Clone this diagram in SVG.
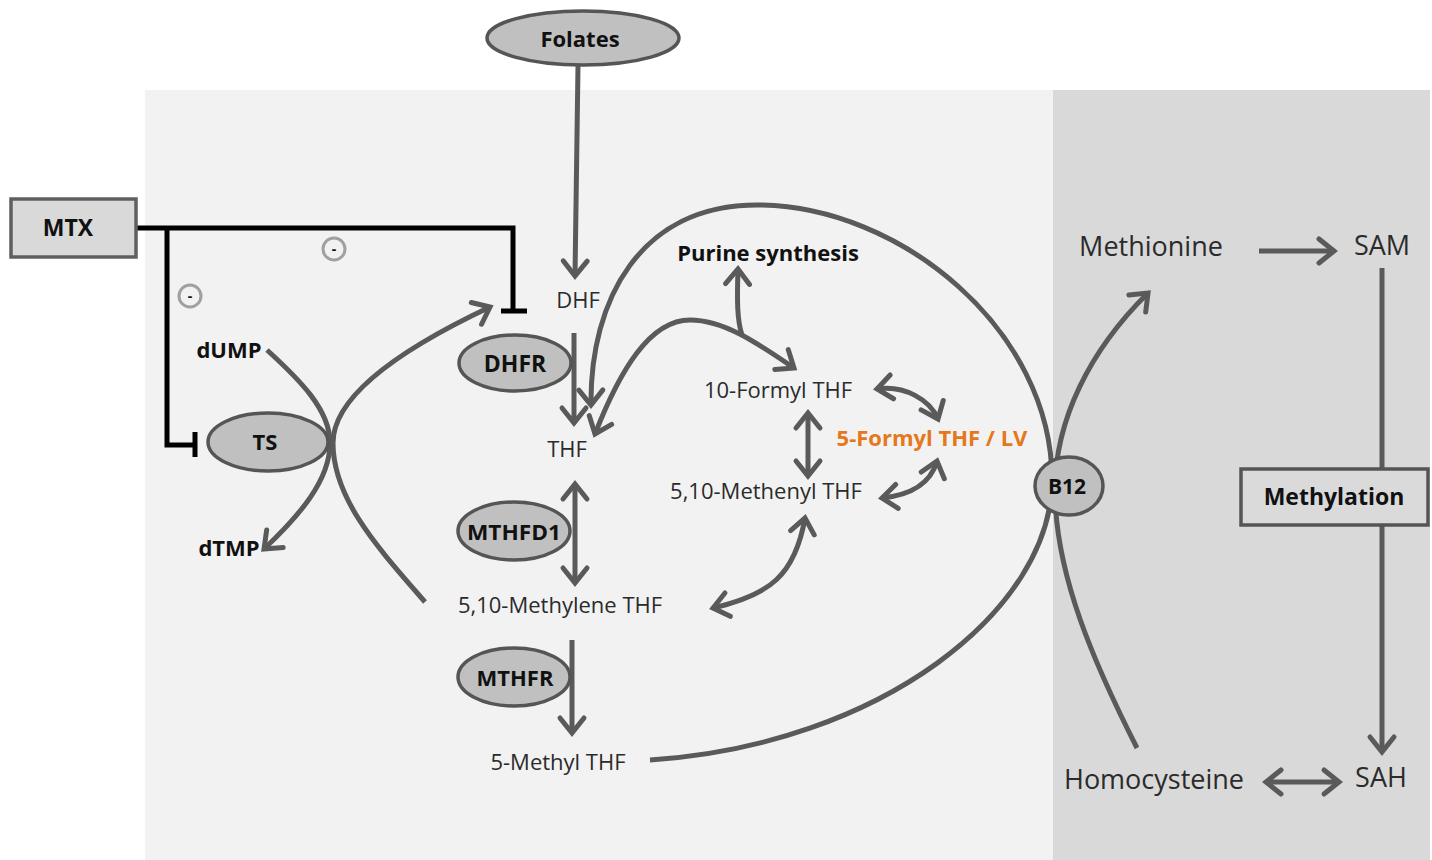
<svg xmlns="http://www.w3.org/2000/svg" width="1432" height="860" viewBox="0 0 1432 860">
<defs>
<style>
.t{font-family:"Open Sans","Noto Sans","Liberation Sans",sans-serif;fill:#2b2b2b;text-anchor:middle}
.b{font-weight:bold;fill:#111}
.c{fill:none;stroke:#5a5a5a;stroke-width:5}
.a{marker-end:url(#ah)}
.d{marker-start:url(#ah);marker-end:url(#ah)}
.inh{fill:none;stroke:#000;stroke-width:5}
.enz{fill:#c0c0c0;stroke:#555;stroke-width:3.5}
.box{fill:#d9d9d9;stroke:#5f5f5f;stroke-width:3.5}
.minus{fill:none;stroke:#a0a0a0;stroke-width:3}
</style>
<marker id="ah" markerUnits="userSpaceOnUse" markerWidth="40" markerHeight="40" viewBox="-20 -20 40 40" refX="0" refY="0" orient="auto-start-reverse" overflow="visible">
<path d="M -15 -12 L 0 0 L -15 12" fill="none" stroke="#5a5a5a" stroke-width="5" stroke-linecap="round"/>
</marker>
</defs>
<rect x="0" y="0" width="1432" height="860" fill="#fff"/>
<rect x="145" y="90" width="908" height="770" fill="#f2f2f2"/>
<rect x="1053" y="90" width="377" height="770" fill="#d9d9d9"/>

<g id="connectors">
<line class="c a" x1="578" y1="66" x2="575" y2="276"/>
<line class="c a" x1="574" y1="333" x2="574" y2="423"/>
<line class="c d" x1="575" y1="484" x2="575" y2="583"/>
<line class="c a" x1="572" y1="640" x2="572" y2="733"/>
<path class="c" d="M 267 350 C 300 380, 330 410, 330 443" />
<path class="c a" d="M 330 443 C 330 480, 300 515, 264 549"/>
<path class="c a" d="M 425 602 C 380 550, 333 500, 333 443 C 333 390, 420 340, 490 307"/>
<path class="c a" d="M 650 760 C 880 745, 1052 610, 1052 480 C 1052 330, 900 205, 757 205 C 640 205, 590 300, 591 405"/>
<path class="c a" d="M 1137 748 C 1095 665, 1055 575, 1055 490 C 1055 420, 1090 350, 1148 293"/>
<path class="c d" d="M 595 434 C 620 370, 650 320, 690 320 C 725 320, 760 345, 794 368"/>
<path class="c a" d="M 742 335 C 737 320, 737 300, 738 269"/>
<line class="c d" x1="808" y1="413" x2="808" y2="476"/>
<path class="c d" d="M 877 389 C 905 385, 930 400, 938 419"/>
<path class="c d" d="M 882 498 C 910 495, 930 485, 937 461"/>
<path class="c d" d="M 713 608 C 770 595, 795 575, 805 518"/>
<line class="c a" x1="1259" y1="251" x2="1334" y2="251"/>
<line class="c" x1="1382" y1="268" x2="1382" y2="469"/>
<line class="c a" x1="1382" y1="525" x2="1382" y2="752"/>
<line class="c d" x1="1266" y1="782" x2="1339" y2="782"/>
<polyline class="inh" points="136,228 513,228 513,311"/>
<line class="inh" x1="501" y1="311" x2="527" y2="311"/>
<polyline class="inh" points="167,228 167,445 195,445"/>
<line class="inh" x1="195" y1="432" x2="195" y2="457"/>
</g>

<g id="minus1"><circle class="minus" cx="334" cy="249" r="11"/><text class="t b" x="334" y="254" font-size="14">-</text></g>
<g id="minus2"><circle class="minus" cx="190" cy="296" r="11"/><text class="t b" x="190" y="301" font-size="14">-</text></g>

<g id="folates"><ellipse class="enz" cx="583" cy="38" rx="96" ry="27"/><text class="t b" x="580" y="47" font-size="22">Folates</text></g>
<g id="mtx"><rect class="box" x="11" y="199" width="125" height="58"/><text class="t b" x="68" y="236" font-size="23">MTX</text></g>
<g id="dhfr"><ellipse class="enz" cx="515" cy="363" rx="56" ry="28"/><text class="t b" x="515" y="372" font-size="23">DHFR</text></g>
<g id="ts"><ellipse class="enz" cx="268" cy="442" rx="60" ry="29"/><text class="t b" x="265" y="450" font-size="22">TS</text></g>
<g id="mthfd1"><ellipse class="enz" cx="514" cy="531" rx="56" ry="29"/><text class="t b" x="514" y="540" font-size="22" textLength="94" lengthAdjust="spacingAndGlyphs">MTHFD1</text></g>
<g id="mthfr"><ellipse class="enz" cx="514" cy="677" rx="56" ry="29"/><text class="t b" x="515" y="686" font-size="22">MTHFR</text></g>
<g id="b12"><ellipse class="enz" cx="1069" cy="486" rx="34" ry="29"/><text class="t b" x="1067" y="494" font-size="21">B12</text></g>
<g id="methylation"><rect x="1241" y="469" width="187" height="56" fill="#dadada" stroke="#555" stroke-width="3.5"/><text class="t b" x="1334" y="505" font-size="23">Methylation</text></g>

<g id="dhf"><text class="t" x="578" y="308" font-size="22">DHF</text></g>
<g id="thf"><text class="t" x="567" y="457" font-size="22">THF</text></g>
<g id="purine"><text class="t b" x="768" y="261" font-size="22">Purine synthesis</text></g>
<g id="formyl10"><text class="t" x="778" y="398" font-size="22">10-Formyl THF</text></g>
<g id="formyl5"><text class="t b" x="932" y="446" font-size="22" style="fill:#e4781b">5-Formyl THF  / LV</text></g>
<g id="methenyl"><text class="t" x="766" y="499" font-size="22">5,10-Methenyl THF</text></g>
<g id="methylene"><text class="t" x="560" y="613" font-size="22">5,10-Methylene THF</text></g>
<g id="methylthf"><text class="t" x="558" y="770" font-size="22">5-Methyl THF</text></g>
<g id="dump"><text class="t b" x="229" y="358" font-size="22">dUMP</text></g>
<g id="dtmp"><text class="t b" x="229" y="556" font-size="22">dTMP</text></g>
<g id="methionine"><text class="t" x="1151" y="256" font-size="27">Methionine</text></g>
<g id="sam"><text class="t" x="1382" y="255" font-size="27">SAM</text></g>
<g id="homocysteine"><text class="t" x="1154" y="789" font-size="27">Homocysteine</text></g>
<g id="sah"><text class="t" x="1381" y="787" font-size="27">SAH</text></g>
</svg>
